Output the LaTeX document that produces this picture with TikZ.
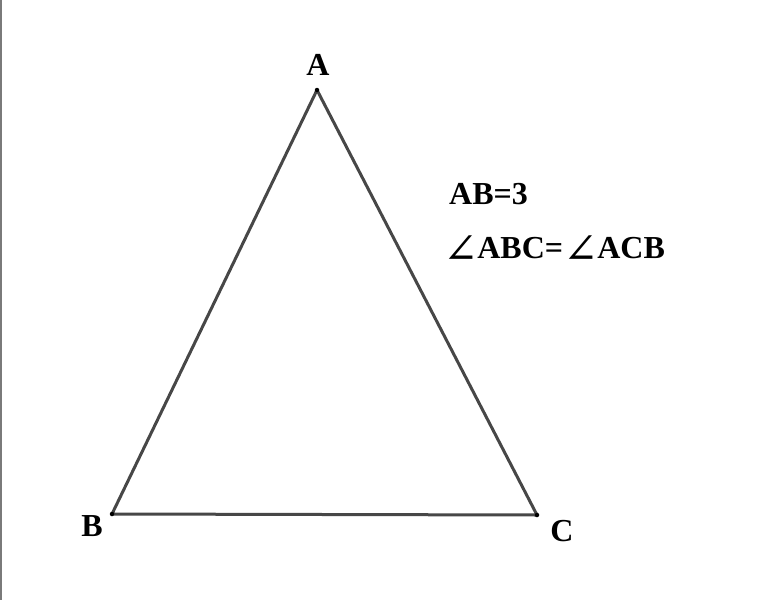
\documentclass[tikz,border=0pt]{standalone}
\usepackage{fontspec}
\setmainfont{Liberation Serif}
\newfontfamily\symfont{DejaVu Serif}
\newcommand{\ang}{\raisebox{-5pt}{\symfont\mdseries\fontsize{42}{44}\selectfont ∠}}
\begin{document}
\begin{tikzpicture}[x=1pt,y=-1pt,
  side/.style={draw=black!72,line width=3pt},
  lbl/.style={font=\fontsize{32}{35}\selectfont\bfseries,inner sep=0pt,anchor=base},
  dot/.style={circle,fill=black,inner sep=0pt,minimum size=4.5pt}]
\useasboundingbox (0,0) rectangle (780,600);
\fill[white] (0,0) rectangle (780,600);
\fill[black!52] (0,0) rectangle (2,600);
\coordinate (A) at (317,90);
\coordinate (B) at (112,514);
\coordinate (C) at (537,515);
\draw[side,line join=round] (A) -- (B) -- (C) -- cycle;
\node[dot] (dA) at (A) {};
\node[dot] (dB) at (B) {};
\node[dot] (dC) at (C) {};
\node[lbl] (lA) at (318,75) {A};
\node[lbl] (lB) at (92,536) {B};
\node[lbl] (lC) at (562,541) {C};
\node[lbl,anchor=base west] (t1) at (449,204) {AB=3};
\node[lbl,anchor=base west] (t2) at (443,258) {\ang\kern-1pt ABC=\ang\kern-1pt ACB};
\end{tikzpicture}
\end{document}
